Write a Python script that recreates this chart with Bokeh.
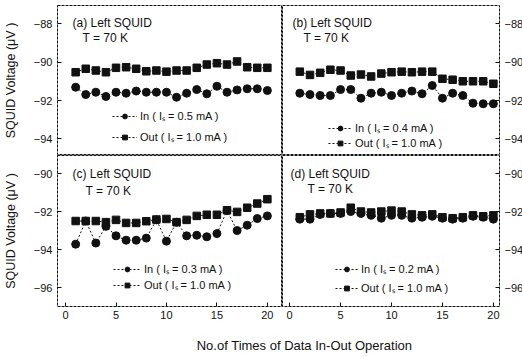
from bokeh.plotting import figure
from bokeh.models import Range1d, FixedTicker, Label, Legend, LegendItem
from bokeh.layouts import column, row
from bokeh.embed import file_html
from bokeh.resources import INLINE

# ---------------- data ----------------
runs = list(range(1, 21))

a_in = [-91.31, -91.69, -91.57, -91.79, -91.57, -91.62, -91.51, -91.57, -91.57, -91.57,
        -91.83, -91.62, -91.43, -91.65, -91.26, -91.57, -91.45, -91.39, -91.39, -91.48]
a_out = [-90.53, -90.35, -90.44, -90.53, -90.30, -90.27, -90.35, -90.48, -90.44, -90.50,
         -90.44, -90.44, -90.30, -90.13, -90.06, -90.13, -89.97, -90.27, -90.30, -90.30]

b_in = [-91.62, -91.69, -91.74, -91.74, -91.43, -91.43, -91.88, -91.62, -91.57, -91.74,
        -91.62, -91.51, -91.65, -91.22, -91.88, -91.62, -91.74, -92.14, -92.17, -92.17]
b_out = [-90.50, -90.67, -90.56, -90.40, -90.44, -90.70, -90.65, -90.75, -90.60, -90.53,
         -90.50, -90.53, -90.50, -90.50, -90.87, -90.92, -91.00, -91.00, -91.00, -91.13]

c_in = [-93.72, -92.50, -93.66, -92.78, -93.28, -93.51, -93.51, -93.40, -92.44, -93.56,
        -92.56, -93.28, -93.25, -93.33, -93.16, -91.95, -93.00, -92.72, -92.37, -92.23]
c_out = [-92.50, -92.50, -92.50, -92.56, -92.44, -92.60, -92.60, -92.51, -92.42, -92.39,
         -92.56, -92.44, -92.23, -92.17, -92.17, -91.93, -92.02, -91.80, -91.58, -91.35]

d_in = [-92.40, -92.40, -92.15, -92.10, -92.10, -92.00, -92.10, -92.20, -92.35, -92.20,
        -92.20, -92.35, -92.30, -92.25, -92.35, -92.40, -92.35, -92.25, -92.30, -92.40]
d_out = [-92.30, -92.15, -92.10, -92.10, -92.05, -91.80, -92.00, -92.05, -92.00, -91.95,
         -92.00, -92.15, -92.20, -92.15, -92.30, -92.35, -92.30, -92.20, -92.25, -92.20]

x_ticks = [0, 5, 10, 15, 20]
y_ticks_top = [-88, -90, -92, -94]
y_ticks_bottom = [-90, -92, -94, -96]

panel_titles = ["(a) Left SQUID", "(b) Left SQUID", "(c) Left SQUID", "(d) Left SQUID"]
temp_label = "T = 70 K"
in_labels = ["In ( I\u209b = 0.5 mA )", "In ( I\u209b = 0.4 mA )",
             "In ( I\u209b = 0.3 mA )", "In ( I\u209b = 0.2 mA )"]
out_label = "Out ( I\u209b = 1.0 mA )"
y_label = "SQUID Voltage (\u03bcV )"
x_label = "No.of Times of Data In-Out Operation"

FONT = "Liberation Sans"
INK = "#111111"


def make_panel(ins, outs, title, in_label, xr, yr, fw, fh, side, bottom_axis,
               yticks, title_pos, temp_pos, leg_loc, leg_spacing, leg_glyph_w):
    p = figure(frame_width=fw, frame_height=fh,
               x_range=Range1d(*xr), y_range=Range1d(*yr),
               x_axis_location="below" if bottom_axis else None,
               y_axis_location=side,
               output_backend="svg", toolbar_location=None, tools="")
    p.min_border = 0
    if side == "left":
        p.min_border_left = 57
        p.min_border_right = 0
    else:
        p.min_border_left = 0
        p.min_border_right = 23
    p.min_border_top = 5 if not bottom_axis else 0
    p.min_border_bottom = 20 if bottom_axis else 0
    p.background_fill_color = "white"
    p.border_fill_color = "white"
    p.grid.visible = False
    p.outline_line_color = INK
    p.outline_line_width = 1
    p.outline_line_dash = "3 1"

    for ax in p.yaxis:
        ax.ticker = FixedTicker(ticks=yticks)
        ax.axis_line_color = None
        ax.major_tick_in = 4
        ax.major_tick_out = 0
        ax.minor_tick_line_color = None
        ax.major_tick_line_color = INK
        ax.major_label_text_font = FONT
        ax.major_label_text_font_size = "11px"
        ax.major_label_text_color = INK
        ax.major_label_standoff = 5
        if side == "left":
            ax.axis_label = y_label
            ax.axis_label_text_font = FONT
            ax.axis_label_text_font_size = "12.5px"
            ax.axis_label_text_font_style = "normal"
            ax.axis_label_text_color = INK
            ax.axis_label_standoff = 13
    if bottom_axis:
        for ax in p.xaxis:
            ax.ticker = FixedTicker(ticks=x_ticks)
            ax.axis_line_color = None
            ax.major_tick_in = 4
            ax.major_tick_out = 0
            ax.minor_tick_line_color = None
            ax.major_tick_line_color = INK
            ax.major_label_text_font = FONT
            ax.major_label_text_font_size = "11px"
            ax.major_label_text_color = INK
            ax.major_label_standoff = 4

    l_in = p.line(runs, ins, line_color=INK, line_width=1, line_dash="2 2")
    s_in = p.scatter(runs, ins, marker="circle", size=8, fill_color=INK, line_color=INK)
    l_out = p.line(runs, outs, line_color=INK, line_width=1, line_dash="2 2")
    s_out = p.scatter(runs, outs, marker="square", size=7.5, fill_color=INK, line_color=INK)

    # helper: frame pixel offsets (from top-left) to data coords
    def to_data(dx, dy):
        x = xr[0] + dx * (xr[1] - xr[0]) / fw
        y = yr[1] - dy * (yr[1] - yr[0]) / fh
        return x, y

    tx, ty = to_data(*title_pos)
    p.add_layout(Label(x=tx, y=ty, text=title, text_font=FONT, text_font_size="12px",
                       text_color=INK, text_baseline="middle", text_align="left"))
    tx, ty = to_data(*temp_pos)
    p.add_layout(Label(x=tx, y=ty, text=temp_label, text_font=FONT, text_font_size="12px",
                       text_color=INK, text_baseline="middle", text_align="left"))

    leg = Legend(items=[LegendItem(label=in_label, renderers=[l_in, s_in]),
                        LegendItem(label=out_label, renderers=[l_out, s_out])],
                 location=leg_loc)
    leg.glyph_width = leg_glyph_w
    leg.glyph_height = 12
    leg.label_height = 12
    leg.spacing = leg_spacing
    leg.padding = 0
    leg.margin = 0
    leg.label_standoff = 3
    leg.border_line_alpha = 0
    leg.background_fill_alpha = 0
    leg.label_text_font = FONT
    leg.label_text_font_size = "11px"
    leg.label_text_color = INK
    p.add_layout(leg)
    return p


xr_left = (-0.8, 21.5)
xr_right = (-0.7, 20.6)
yr_top = (-94.86, -87.06)
yr_bottom = (-97.0, -89.05)

pa = make_panel(a_in, a_out, panel_titles[0], in_labels[0], xr_left, yr_top, 225, 150,
                "left", False, y_ticks_top, (15, 17), (25, 32), (55, 11), 6, 25)
pb = make_panel(b_in, b_out, panel_titles[1], in_labels[1], xr_right, yr_top, 217, 150,
                "right", False, y_ticks_top, (10, 17), (21, 32), (46, 5), 0, 24)
pc = make_panel(c_in, c_out, panel_titles[2], in_labels[2], xr_left, yr_bottom, 225, 151,
                "left", True, y_ticks_bottom, (15, 18), (28, 35), (56, 14), 1, 28)
pd = make_panel(d_in, d_out, panel_titles[3], in_labels[3], xr_right, yr_bottom, 217, 151,
                "right", True, y_ticks_bottom, (8, 18), (25, 33), (53, 11), 4, 23)

px = figure(width=522, height=31, x_range=Range1d(0, 522), y_range=Range1d(0, 31),
            x_axis_location=None, y_axis_location=None,
            output_backend="svg", toolbar_location=None, tools="")
px.min_border = 0
px.outline_line_color = None
px.grid.visible = False
px.add_layout(Label(x=304, y=12, text=x_label, text_font=FONT, text_font_size="13px",
                    text_color=INK, text_baseline="middle", text_align="center"))

layout = column(row(pa, pb), row(pc, pd), px)

open("out.html", "w").write(file_html(layout, INLINE))
